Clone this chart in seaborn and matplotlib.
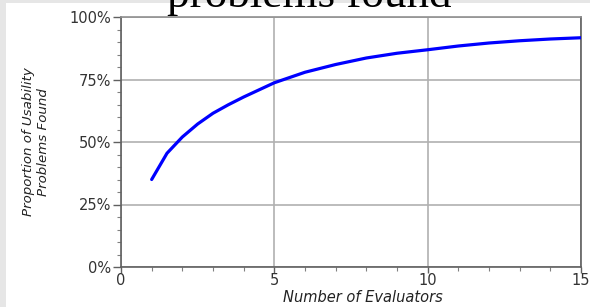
import matplotlib
matplotlib.use("Agg")
import matplotlib.pyplot as plt
import matplotlib.ticker as mticker
from matplotlib.patches import Rectangle
import seaborn as sns
import pandas as pd

# Data
evaluators = [1, 1.5, 2, 2.5, 3, 3.5, 4, 5, 6, 7, 8, 9, 10, 11, 12, 13, 14, 15]
proportion_found = [0.35, 0.455, 0.52, 0.572, 0.615, 0.649, 0.68, 0.737, 0.779, 0.81,
                    0.836, 0.855, 0.869, 0.884, 0.896, 0.905, 0.912, 0.917]

title_text = "problems found"
x_label = "Number of Evaluators"
y_label = "Proportion of Usability\nProblems Found"
x_ticks = [0, 5, 10, 15]
y_ticks = [0, 0.25, 0.5, 0.75, 1.0]
y_ticklabels = ["0%", "25%", "50%", "75%", "100%"]

df = pd.DataFrame({"evaluators": evaluators, "found": proportion_found})

sns.set_theme(style="white")
plt.rcParams["font.family"] = ["DejaVu Sans"]

W, H = 590, 307
fig = plt.figure(figsize=(W / 100, H / 100), dpi=100)
fig.patch.set_facecolor("white")
# light gray frame strips on the left and top
fig.patches.append(Rectangle((0, 0), 6 / W, 1, transform=fig.transFigure,
                             facecolor="#e6e6e6", edgecolor="none", zorder=0))
fig.patches.append(Rectangle((0, 1 - 3 / H), 1, 3 / H, transform=fig.transFigure,
                             facecolor="#e6e6e6", edgecolor="none", zorder=0))

left, right, top, bottom = 121, 581, 17, 267
ax = fig.add_axes([left / W, 1 - bottom / H, (right - left) / W, (bottom - top) / H])
ax.set_facecolor("white")

sns.lineplot(data=df, x="evaluators", y="found", ax=ax, color="#0000ff",
             linewidth=2.3, zorder=3)

ax.set_xlim(0, 15)
ax.set_ylim(0, 1.0)
ax.set_xticks(x_ticks)
ax.set_xticklabels([str(t) for t in x_ticks])
ax.set_yticks(y_ticks)
ax.set_yticklabels(y_ticklabels)
ax.xaxis.set_minor_locator(mticker.MultipleLocator(1))
ax.yaxis.set_minor_locator(mticker.MultipleLocator(0.05))

ax.grid(True, which="major", color="#b0b0b0", linewidth=1.2)
ax.set_axisbelow(True)
for s in ax.spines.values():
    s.set_visible(True)
    s.set_color("#606060")
    s.set_linewidth(1.2)
ax.spines["top"].set_color("#909090")

ax.tick_params(axis="both", which="major", direction="out", length=6, width=1,
               color="#606060", labelsize=10.5, labelcolor="#333333", pad=1,
               bottom=True, left=True)
ax.tick_params(axis="x", which="major", length=4, pad=0)
ax.tick_params(axis="both", which="minor", direction="out", length=3, width=0.8,
               color="#808080", bottom=True, left=True)

ax.set_xlabel(x_label, fontsize=10.5, style="italic", color="#222222")
ax.xaxis.set_label_coords((363 - left) / (right - left), -0.09)
ax.set_ylabel(y_label, fontsize=9.6, style="italic", color="#222222",
              linespacing=1.15)
ax.yaxis.set_label_coords((50 - left) / (right - left), 0.5)

fig.text(309 / W, 1 - 7 / H, title_text, fontsize=32.5, family="Liberation Serif",
         ha="center", va="baseline", color="black")

fig.savefig("out.png", dpi=100)
